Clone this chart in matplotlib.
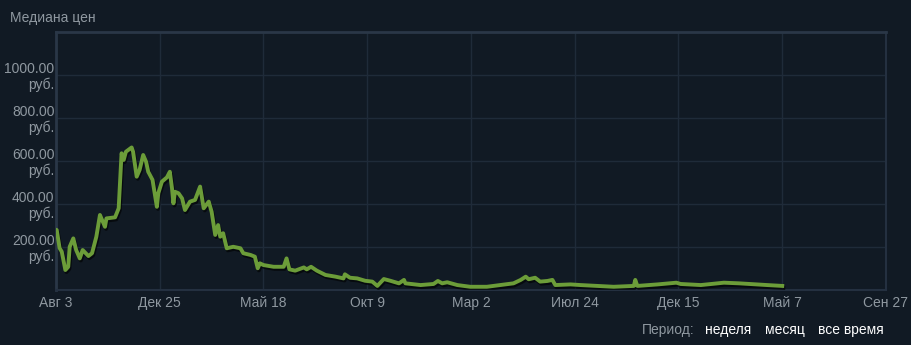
import matplotlib
matplotlib.use('Agg')
import matplotlib.pyplot as plt
import matplotlib.patheffects as pe

plt.rcParams['font.family'] = ['Liberation Sans', 'DejaVu Sans']

# days since the first tick (Авг 3), price in руб.
days = [0, 1, 5, 8, 13, 17, 19, 24, 28, 33, 37, 45, 50, 56, 61, 68, 70, 82, 87,
        91, 94, 97, 105, 107, 112, 116, 121, 125, 128, 134, 140, 142, 147, 154,
        158, 161, 163, 165, 170, 175, 179, 186, 193, 200, 205, 212, 216, 221,
        225, 228, 232, 237, 246, 256, 260, 270, 276, 280, 283, 288, 302, 316,
        320, 324, 332, 344, 348, 354, 362, 374, 388, 399, 401, 408, 418, 429,
        439, 446, 455, 464, 476, 483, 485, 506, 524, 530, 536, 543, 557, 575,
        598, 635, 645, 652, 656, 665, 672, 682, 689, 693, 714, 728, 774, 802,
        804, 807, 835, 861, 867, 895, 927, 948, 987, 1008]
prices = [280, 279, 195, 178, 93, 108, 201, 240, 186, 147, 186, 158, 171, 248,
          349, 294, 333, 338, 380, 636, 605, 643, 663, 643, 527, 558, 628, 597,
          550, 512, 387, 450, 504, 524, 550, 473, 403, 457, 450, 426, 372, 411,
          419, 481, 380, 411, 364, 256, 302, 248, 264, 194, 201, 194, 171, 163,
          155, 101, 124, 116, 108, 108, 147, 96, 90, 105, 96, 108, 90, 70, 62,
          54, 73, 57, 54, 43, 39, 19, 51, 43, 31, 47, 31, 23, 28, 42, 31, 36,
          23, 15, 15, 31, 47, 62, 50, 57, 39, 42, 47, 23, 26, 23, 15, 19, 47,
          19, 26, 34, 28, 23, 34, 31, 23, 19]

tick_days = [0, 144, 288, 432, 576, 720, 864, 1008, 1152]
tick_labels = ['Авг 3', 'Дек 25', 'Май 18', 'Окт 9', 'Мар 2', 'Июл 24',
               'Дек 15', 'Май 7', 'Сен 27']
y_ticks = [200, 400, 600, 800, 1000]

bg = '#111a24'
text_c = '#8f98a0'
fs = 10

fig = plt.figure(figsize=(9.12, 3.45), dpi=100, facecolor=bg)
ax = fig.add_axes([56 / 912, 1 - 290 / 345, 830 / 912, 258 / 345])
ax.set_facecolor(bg)

ax.plot(days, prices, color='#6c9d39', linewidth=2.8, solid_joinstyle='round',
        path_effects=[pe.SimpleLineShadow(offset=(0.8, -1.5), shadow_color='black', alpha=0.6),
                      pe.Normal()], zorder=3)

ax.set_xlim(0, 1152)
ax.set_ylim(0, 1200)
ax.set_xticks(tick_days)
ax.set_xticklabels(tick_labels)
ax.set_yticks(y_ticks)
ax.set_yticklabels([f'{v:.2f}\nруб.' for v in y_ticks], linespacing=1.1)

ax.grid(True, color='#1f2b39', linewidth=1)
ax.tick_params(length=0, colors=text_c, labelsize=fs)
ax.tick_params(axis='y', pad=1)
ax.tick_params(axis='x', pad=4)
for side in ['left', 'top']:
    ax.spines[side].set_color('#2a3747')
    ax.spines[side].set_linewidth(2)
for side in ['right', 'bottom']:
    ax.spines[side].set_color('#243040')
    ax.spines[side].set_linewidth(1.5)

fig.text(10 / 912, 1 - 18 / 345, 'Медиана цен', color=text_c, fontsize=fs, va='center')

fig.text(695 / 912, 1 - 330 / 345, 'Период:', color=text_c, fontsize=fs, va='center', ha='right')
fig.text(705 / 912, 1 - 330 / 345, 'неделя', color='white', fontsize=fs, va='center')
fig.text(765 / 912, 1 - 330 / 345, 'месяц', color='white', fontsize=fs, va='center')
fig.text(818 / 912, 1 - 330 / 345, 'все время', color='white', fontsize=fs, va='center')

fig.savefig('out.png', dpi=100, facecolor=bg)
